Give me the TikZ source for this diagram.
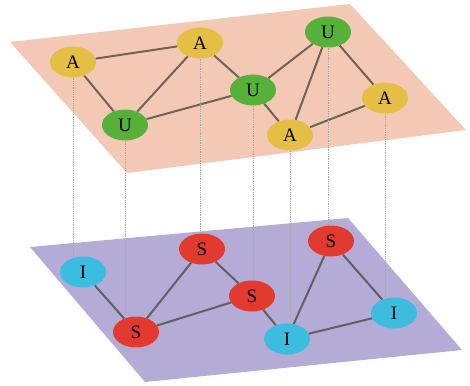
\documentclass[tikz,border=0pt]{standalone}
\usepackage{fontspec}
\setmainfont{Liberation Serif}
\usetikzlibrary{shapes.geometric}
\definecolor{peach}{RGB}{243,201,182}
\definecolor{lav}{RGB}{180,172,214}
\definecolor{ayel}{RGB}{229,190,70}
\definecolor{ugrn}{RGB}{86,176,58}
\definecolor{sred}{RGB}{226,58,46}
\definecolor{icyan}{RGB}{60,189,224}
\definecolor{edgetop}{RGB}{110,99,85}
\definecolor{edgebot}{RGB}{96,96,96}
\tikzset{
  nd/.style={ellipse, minimum width=46pt, minimum height=31pt, inner sep=0pt, font=\fontsize{19}{19}\selectfont},
  anode/.style={nd, fill=ayel},
  unode/.style={nd, fill=ugrn},
  snode/.style={nd, fill=sred},
  inode/.style={nd, fill=icyan},
  topedge/.style={draw=edgetop, line width=2pt},
  botedge/.style={draw=edgebot, line width=2pt},
  vline/.style={draw=gray!70, line width=0.8pt, densely dotted},
}
\begin{document}
\begin{tikzpicture}[x=1pt,y=-1pt]
\useasboundingbox (0,0) rectangle (470,385);
% top plane
\fill[peach] (10,42) -- (350,4) -- (466,130) -- (127,173) -- cycle;
\node[anode] (A1) at (73,62) {A};
\node[anode] (A2) at (200,43) {A};
\node[unode] (U1) at (125,125) {U};
\node[unode] (U2) at (253,90) {U};
\node[unode] (U3) at (328,32) {U};
\node[anode] (A3) at (290,135) {A};
\node[anode] (A4) at (385,98) {A};
% bottom plane
\fill[lav] (30,247) -- (348,218) -- (462,350) -- (145,382) -- cycle;
\node[inode] (I1) at (83,272) {I};
\node[snode] (S1) at (136,332) {S};
\node[snode] (S2) at (202,249) {S};
\node[snode] (S3) at (252,296) {S};
\node[inode] (I2) at (287,339) {I};
\node[snode] (S4) at (331,241) {S};
\node[inode] (I3) at (394,313) {I};
% edges
\foreach \a/\b in {A1/A2,A1/U1,U1/A2,U1/U2,A2/U2,U2/U3,U2/A3,A3/U3,U3/A4,A3/A4}
  \draw[topedge] (\a) -- (\b);
\foreach \a/\b in {I1/S1,S1/S2,S1/S3,S2/S3,S3/I2,I2/S4,S4/I3,I2/I3}
  \draw[botedge] (\a) -- (\b);
% vertical dotted connectors
\foreach \t/\b in {A1/I1,U1/S1,A2/S2,U2/S3,A3/I2,U3/S4,A4/I3}
  \draw[vline] (\t.south) -- (\t.south |- \b.north);
\end{tikzpicture}
\end{document}
